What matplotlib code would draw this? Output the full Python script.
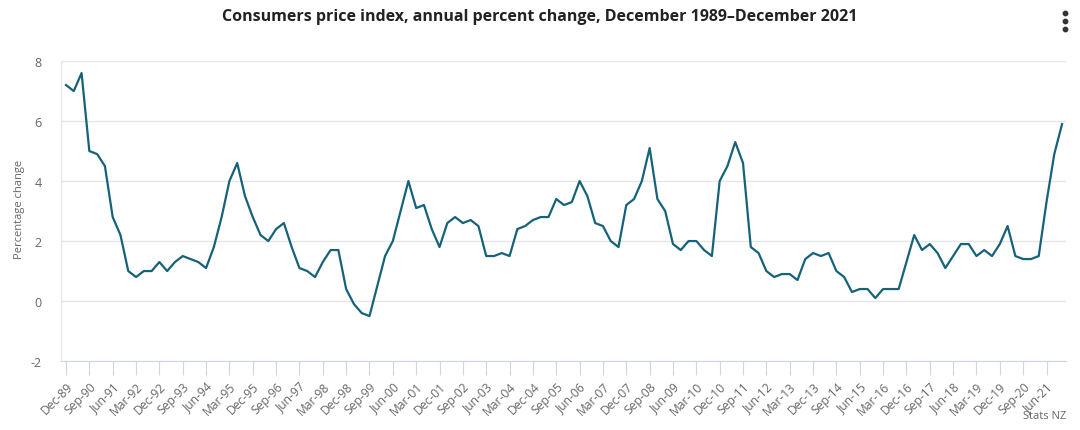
import numpy as np
import matplotlib.pyplot as plt
from matplotlib.lines import Line2D

# Квартальные метки: Dec-89 ... Dec-21
months = ['Mar', 'Jun', 'Sep', 'Dec']
quarters = ['Dec-89'] + [f'{m}-{y % 100:02d}' for y in range(1990, 2022) for m in months]

# Годовое изменение ИПЦ, %
cpi_change = [
    7.2, 7.0, 7.6, 5.0, 4.9, 4.5, 2.8, 2.2, 1.0, 0.8,
    1.0, 1.0, 1.3, 1.0, 1.3, 1.5, 1.4, 1.3, 1.1, 1.8,
    2.8, 4.0, 4.6, 3.5, 2.8, 2.2, 2.0, 2.4, 2.6, 1.8,
    1.1, 1.0, 0.8, 1.3, 1.7, 1.7, 0.4, -0.1, -0.4, -0.5,
    0.5, 1.5, 2.0, 3.0, 4.0, 3.1, 3.2, 2.4, 1.8, 2.6,
    2.8, 2.6, 2.7, 2.5, 1.5, 1.5, 1.6, 1.5, 2.4, 2.5,
    2.7, 2.8, 2.8, 3.4, 3.2, 3.3, 4.0, 3.5, 2.6, 2.5,
    2.0, 1.8, 3.2, 3.4, 4.0, 5.1, 3.4, 3.0, 1.9, 1.7,
    2.0, 2.0, 1.7, 1.5, 4.0, 4.5, 5.3, 4.6, 1.8, 1.6,
    1.0, 0.8, 0.9, 0.9, 0.7, 1.4, 1.6, 1.5, 1.6, 1.0,
    0.8, 0.3, 0.4, 0.4, 0.1, 0.4, 0.4, 0.4, 1.3, 2.2,
    1.7, 1.9, 1.6, 1.1, 1.5, 1.9, 1.9, 1.5, 1.7, 1.5,
    1.9, 2.5, 1.5, 1.4, 1.4, 1.5, 3.3, 4.9, 5.9,
]
y_ticks = [-2, 0, 2, 4, 6, 8]

plt.rcParams['font.family'] = ['Open Sans', 'DejaVu Sans']

fig = plt.figure(figsize=(10.8, 4.31), dpi=100)
ax = fig.add_axes([0.0565, 0.160, 0.9305, 0.696])

x = np.arange(len(cpi_change))
ax.plot(x, cpi_change, color='#15627a', linewidth=1.6)

ax.set_xlim(-0.64, len(cpi_change) - 0.5)
ax.set_ylim(-2, 8)
ax.set_yticks(y_ticks)
ax.set_yticklabels([str(v) for v in y_ticks])
ax.grid(axis='y', color='#e6e6e6', linewidth=1)
ax.set_axisbelow(True)

tick_pos = x[::3]
ax.set_xticks(tick_pos)
ax.set_xticklabels([quarters[i] for i in tick_pos], rotation=45, ha='right',
                   va='top', rotation_mode='anchor')

for s in ['top', 'right']:
    ax.spines[s].set_visible(False)
ax.spines['left'].set_color('#dfe4f0')
ax.spines['bottom'].set_color('#ccd6eb')

ax.tick_params(axis='x', length=10, color='#ccd6eb', labelsize=8.7, labelcolor='#666666', pad=3)
ax.tick_params(axis='y', length=0, labelsize=9, labelcolor='#666666', pad=14)

# подпись оси Y — в координатах фигуры, чтобы не обрезалась
fig.text(0.018, 0.513, 'Percentage change', rotation=90, ha='center', va='center',
         fontsize=8, color='#666666')

fig.text(0.5, 0.96, 'Consumers price index, annual percent change, December 1989\u2013December 2021',
         ha='center', va='center', fontsize=11.5, fontweight='bold', color='#222222')
# меню из трёх точек
fig.add_artist(Line2D([0.986] * 3, [0.967, 0.949, 0.931], transform=fig.transFigure,
                      linestyle='none', marker='o', markersize=3.2, color='#333333'))
fig.text(0.987, 0.022, 'Stats NZ', ha='right', va='bottom', fontsize=8, color='#666666')

fig.savefig('out.png', dpi=100)
